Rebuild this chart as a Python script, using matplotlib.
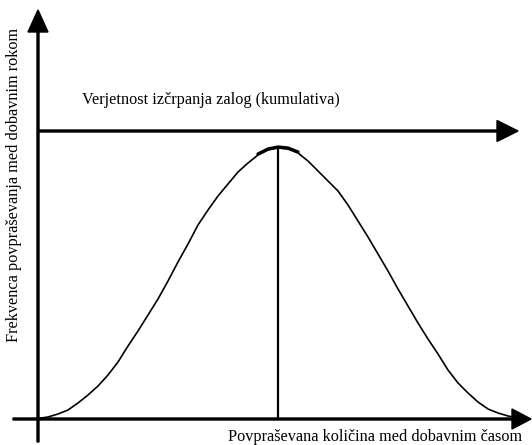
import matplotlib.pyplot as plt

plt.rcParams['font.family'] = ['Liberation Serif', 'DejaVu Serif']

# bell curve (demand vs. frequency, arbitrary units)
demand = [0, 10, 20, 30, 40, 50, 60, 70, 80, 90, 100, 110, 120, 130, 140,
          150, 160, 170, 180, 190, 200, 210, 220, 230, 240, 250, 260, 270,
          280, 290, 300, 310, 320, 330, 340, 350, 360, 370, 380, 390, 400,
          410, 420, 430, 440, 450, 460, 470, 480, 485]
frequency = [0.5, 2, 5, 9, 16, 24, 33, 44, 57, 73, 88, 104, 120, 138, 157,
             175, 194, 209, 223, 235, 247, 256, 264, 269, 271, 270, 266, 258,
             248, 238, 228, 214, 198, 182, 165, 148, 130, 113, 96, 80, 65,
             49, 36, 26, 17, 10, 6, 3, 1, 0.5]
mean_demand = 240
peak_freq = 271
cap_range = (217, 262)
cumulative_level = 288

title_top = 'Verjetnost izčrpanja zalog (kumulativa)'
xlabel = 'Povpraševana količina med dobavnim časom'
ylabel = 'Frekvenca povpraševanja med dobavnim rokom'

fig = plt.figure(figsize=(5.32, 4.45), dpi=100)
ax = fig.add_axes([0, 0, 1, 1])
ax.set_xlim(-38, 494)
ax.set_ylim(-26, 419)
ax.axis('off')

# axes with arrows
ax.arrow(-25, 0, 518, 0, width=2.0, head_width=20, head_length=19,
         length_includes_head=True, color='black')
ax.arrow(0, -23, 0, 432, width=2.0, head_width=20, head_length=22,
         length_includes_head=True, color='black')
# cumulative probability arrow
ax.arrow(0, cumulative_level, 480, 0, width=2.0, head_width=21, head_length=21,
         length_includes_head=True, color='black')

ax.plot(demand, frequency, color='black', lw=1.2, solid_joinstyle='round')
cap = [(d, f) for d, f in zip(demand, frequency) if cap_range[0] <= d <= cap_range[1]]
ax.plot([c[0] for c in cap], [c[1] + 1 for c in cap], color='black', lw=2.4,
        solid_capstyle='round')
ax.plot([mean_demand, mean_demand], [0, peak_freq], color='black', lw=1.6)

ax.text(44, 319, title_top, fontsize=11.7, va='center', ha='left')
ax.text(484, -18, xlabel, fontsize=11.7, va='center', ha='right')
ax.text(-24, 234, ylabel, fontsize=11.7, va='center', ha='center', rotation=90)

fig.savefig('out.png', dpi=100)
